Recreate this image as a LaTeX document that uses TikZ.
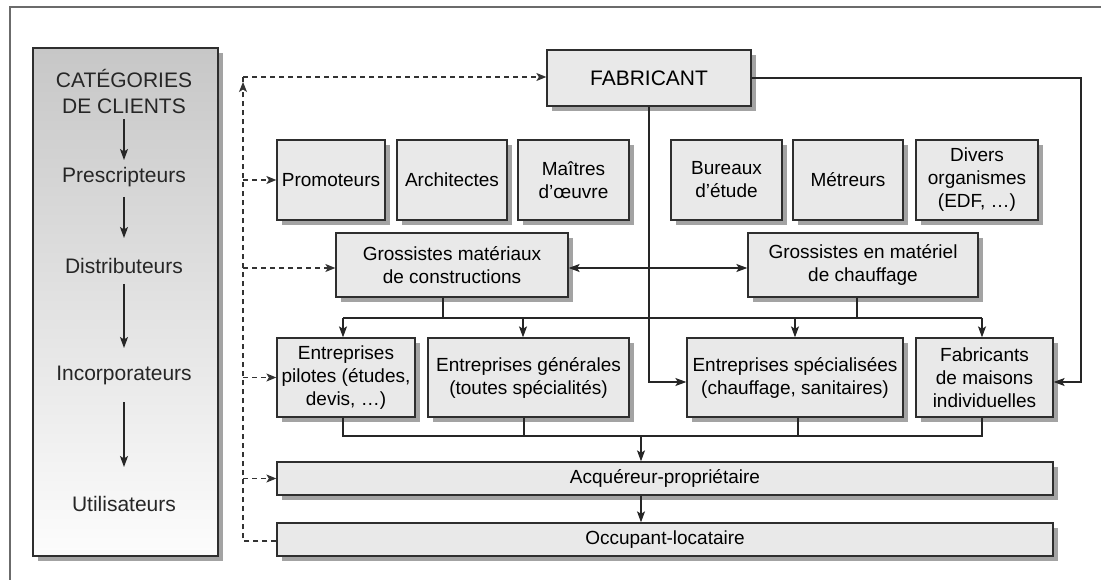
\documentclass[tikz,border=0pt]{standalone}
\usepackage{fontspec}
\setmainfont{Liberation Sans}
\usetikzlibrary{arrows.meta,shadows}
\tikzset{
  shad/.style={drop shadow={shadow xshift=5pt,shadow yshift=-5pt,fill=black!36,opacity=1}},
  box/.style={draw=black!82,line width=1.3pt,fill=black!8.5,align=center,inner sep=0pt,
     font=\fontsize{19}{23}\selectfont,shad},
  panel/.style={draw=black!82,line width=1.3pt,inner sep=0pt,top color=black!22,bottom color=black!1,shad},
  ptext/.style={align=center,inner sep=0pt,font=\fontsize{21}{26}\selectfont,text=black!85},
  conn/.style={draw=black!85,line width=1.3pt},
  arr/.style={conn,-{Stealth[length=11pt,width=8pt,inset=2.5pt]}},
  arrtwo/.style={conn,{Stealth[length=11pt,width=8pt,inset=2.5pt]}-{Stealth[length=11pt,width=8pt,inset=2.5pt]}},
  darr/.style={draw=black!80,line width=1.1pt,dash pattern=on 5pt off 4pt,-{Stealth[length=10pt,width=8pt,inset=2.5pt]}},
  frameline/.style={draw=black!58,line width=2pt}
}
\begin{document}
\begin{tikzpicture}[x=1pt,y=-1pt]
\useasboundingbox (0,0) rectangle (1101,580);
\fill[white] (0,0) rectangle (1101,580);
\draw[frameline] (10,580) -- (10,7) -- (1101,7);

% left panel
\node[panel,minimum width=185pt,minimum height=508pt] (panel) at (125.5,302) {};
\node[ptext] (cat) at (124,91) {CATÉGORIES\\DE CLIENTS};
\node[ptext,anchor=base] (pres) at (124,183) {Prescripteurs};
\node[ptext,anchor=base] (dist) at (124,274) {Distributeurs};
\node[ptext,anchor=base] (inc) at (124,380) {Incorporateurs};
\node[ptext,anchor=base] (util) at (124,511) {Utilisateurs};
\draw[arr] ([yshift=-6pt]cat.south) -- ([yshift=23pt]pres.base);
\draw[arr] ([yshift=-14pt]pres.base) -- ([yshift=36pt]dist.base);
\draw[arr] ([yshift=-10pt]dist.base) -- ([yshift=32pt]inc.base);
\draw[arr] ([yshift=-22pt]inc.base) -- ([yshift=44pt]util.base);

% main boxes
\node[box,minimum width=204pt,minimum height=56pt,font=\fontsize{21}{25}\selectfont] (fab) at (649,78) {FABRICANT};

\node[box,minimum width=108pt,minimum height=80pt] (prom) at (331,180) {Promoteurs};
\node[box,minimum width=110pt,minimum height=80pt] (arch) at (452,180) {Architectes};
\node[box,minimum width=111pt,minimum height=80pt] (mait) at (573.5,180) {Maîtres\\d’œuvre};
\node[box,minimum width=111pt,minimum height=80pt] (bur) at (726.5,180) {Bureaux\\d’étude};
\node[box,minimum width=110pt,minimum height=80pt] (met) at (848,180) {Métreurs};
\node[box,minimum width=122pt,minimum height=80pt] (div) at (977,180) {Divers\\organismes\\(EDF, …)};

\node[box,minimum width=232pt,minimum height=64pt] (gm) at (452,265) {Grossistes matériaux\\de constructions};
\node[box,minimum width=230pt,minimum height=64pt] (gc) at (863,265) {Grossistes en matériel\\de chauffage};

\node[box,minimum width=138pt,minimum height=79pt] (ep) at (346,377.5) {Entreprises\\pilotes (études,\\devis, …)};
\node[box,minimum width=201pt,minimum height=79pt] (eg) at (528.5,377.5) {Entreprises générales\\(toutes spécialités)};
\node[box,minimum width=216pt,minimum height=79pt] (es) at (795,377.5) {Entreprises spécialisées\\(chauffage, sanitaires)};
\node[box,minimum width=137pt,minimum height=79pt] (fm) at (984.5,377.5) {Fabricants\\de maisons\\individuelles};

\node[box,minimum width=776pt,minimum height=33pt] (acq) at (665,478.5) {Acquéreur-propriétaire};
\node[box,minimum width=776pt,minimum height=33pt] (occ) at (665,539.5) {Occupant-locataire};

% fabricant connectors
\coordinate (rc) at (1081,382);
\coordinate (lc) at (649,382);
\draw[arr] (fab.east) -| (rc) -- (fm.east |- rc);
\draw[arr] (fab.south) -- (lc) -- (es.west |- lc);

% grossistes
\draw[arrtwo] ([yshift=-3pt]gm.east) -- ([yshift=-3pt]gc.west);
\coordinate (busL) at (343,318);
\coordinate (busR) at (982,318);
\coordinate (b2) at (523,318);
\coordinate (b3) at (795,318);
\draw[conn] (busL) -- (busR);
\draw[conn] ([xshift=-9pt]gm.south) -- ++(0,21);
\draw[conn] ([xshift=-6pt]gc.south) -- ++(0,21);
\draw[arr] (busL) -- (ep.north -| busL);
\draw[arr] (b2) -- (eg.north -| b2);
\draw[arr] (b3) -- (es.north -| b3);
\draw[arr] (busR) -- (fm.north -| busR);

% collector
\coordinate (cL) at (343,436);
\coordinate (c2) at (524,436);
\coordinate (c3) at (798,436);
\coordinate (cR) at (982,436);
\coordinate (cm) at (641,436);
\draw[conn] (ep.south -| cL) -- (cL) -- (cR) -- (fm.south -| cR);
\draw[conn] (eg.south -| c2) -- (c2);
\draw[conn] (es.south -| c3) -- (c3);
\draw[arr] (cm) -- (acq.north -| cm);
\draw[arr] (acq.south -| cm) -- (occ.north -| cm);

% dashed links
\coordinate (dtop) at (243,77);
\coordinate (dv) at (243,82);
\draw[darr] ([yshift=-1.5pt]occ.west) -| (dv);
\draw[draw=black!80,line width=1.1pt,dash pattern=on 5pt off 4pt] (dv) -- (dtop);
\draw[darr] (dtop) -- (fab.west |- dtop);
\draw[darr] (prom.west -| dtop) -- (prom.west);
\draw[darr] ([yshift=-3pt]gm.west -| dtop) -- ([yshift=-3pt]gm.west);
\draw[darr] (ep.west -| dtop) -- (ep.west);
\draw[darr] (acq.west -| dtop) -- (acq.west);
\end{tikzpicture}
\end{document}
